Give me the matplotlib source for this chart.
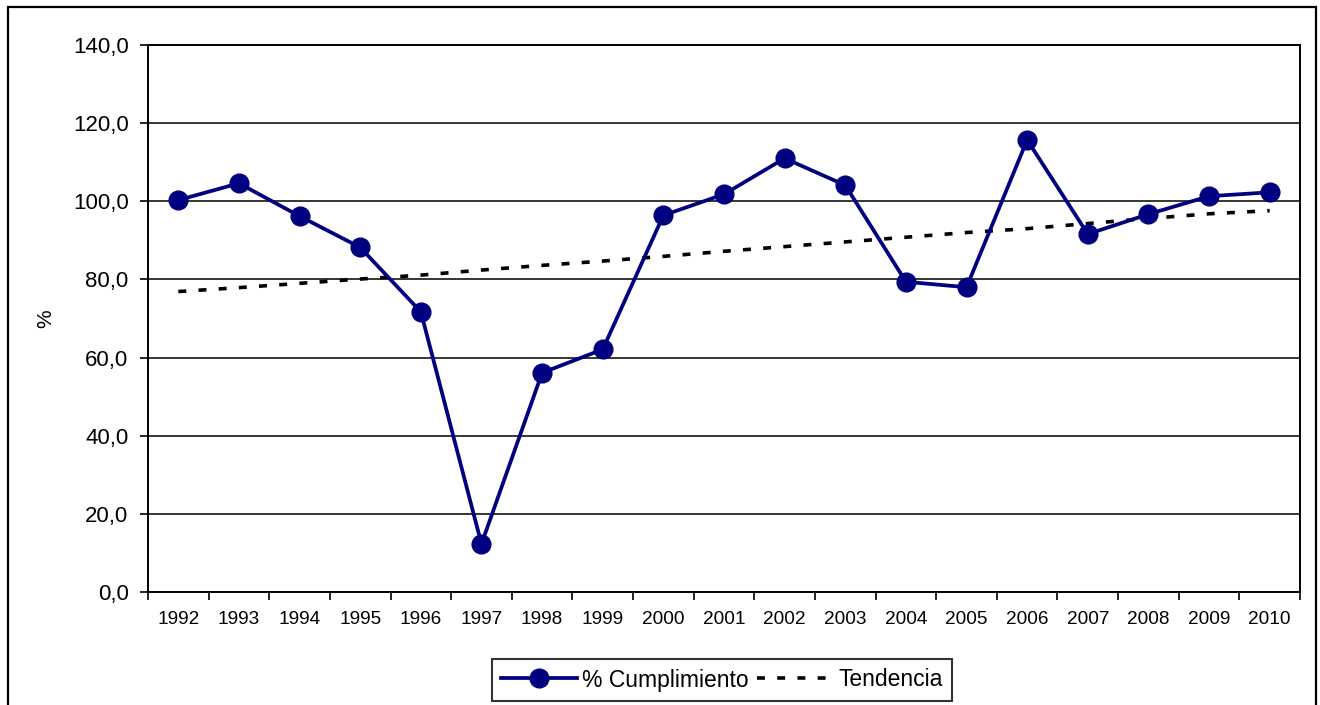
import matplotlib
matplotlib.use("Agg")
import matplotlib.pyplot as plt
from matplotlib.patches import Rectangle
from matplotlib.ticker import FixedLocator, FuncFormatter

years = ["1992", "1993", "1994", "1995", "1996", "1997", "1998", "1999", "2000", "2001",
         "2002", "2003", "2004", "2005", "2006", "2007", "2008", "2009", "2010"]
cumplimiento = [100.3, 104.6, 96.2, 88.2, 71.7, 12.3, 56.1, 62.1, 96.4, 101.8,
                111.0, 104.1, 79.4, 78.0, 115.7, 91.6, 96.7, 101.3, 102.3]
tendencia = [76.9, 77.9, 79.0, 80.1, 81.1, 82.4, 83.6, 84.7, 85.9, 87.2,
             88.4, 89.6, 90.8, 92.0, 93.0, 94.3, 95.6, 96.8, 97.6]
yticks = [0, 20, 40, 60, 80, 100, 120, 140]

plt.rcParams['font.family'] = ['Liberation Sans', 'DejaVu Sans']

fig = plt.figure(figsize=(13.2, 7.05), dpi=100)
ax = fig.add_axes([148/1320, 1 - 592/705, (1300-148)/1320, (592-45)/705])

x = list(range(len(years)))
ax.plot(x, cumplimiento, color='#000080', lw=2.7, marker='o', markersize=13.5,
        markerfacecolor='#000080', markeredgecolor='#000080', label='% Cumplimiento', zorder=4)
ax.plot(x, tendencia, color='black', lw=2.6, linestyle=(0, (2.2, 3.4)),
        label='Tendencia', zorder=3)

ax.set_xlim(-0.5, len(years) - 0.5)
ax.set_ylim(0, 140)
ax.set_yticks(yticks)
ax.yaxis.set_major_formatter(FuncFormatter(lambda v, p: f"{v:.1f}".replace('.', ',')))
ax.tick_params(axis='y', labelsize=16, length=6, width=1.2, direction='out', pad=8, color='black')

ax.xaxis.set_major_locator(FixedLocator([i - 0.5 for i in range(len(years) + 1)]))
ax.xaxis.set_minor_locator(FixedLocator(x))
ax.set_xticklabels([], minor=False)
ax.set_xticklabels(years, minor=True)
ax.tick_params(axis='x', which='major', length=6, width=1.2, direction='out')
ax.tick_params(axis='x', which='minor', length=0, labelsize=13.7, pad=14)

ax.grid(axis='y', color='black', lw=1.1)
ax.set_axisbelow(True)
for s in ax.spines.values():
    s.set_color('black')
    s.set_linewidth(1.4)

ax.set_ylabel('%', fontsize=15)
ax.yaxis.set_label_coords((55 - 148) / 1152, 0.5)

leg = fig.legend(loc='center', bbox_to_anchor=(722/1320, 1 - 680/705), ncol=2,
                 fontsize=16.5, frameon=True, fancybox=False, handlelength=3.3,
                 columnspacing=0.35, handletextpad=0.25, borderpad=0.4, borderaxespad=0)
leg.get_frame().set_edgecolor('black')
leg.get_frame().set_linewidth(1.5)

fig.patches.append(Rectangle((8/1320, -0.05), (1316-8)/1320, 1.05 - 7/705,
                             transform=fig.transFigure, fill=False,
                             edgecolor='black', lw=1.6, zorder=10))

fig.savefig('out.png', dpi=100)
